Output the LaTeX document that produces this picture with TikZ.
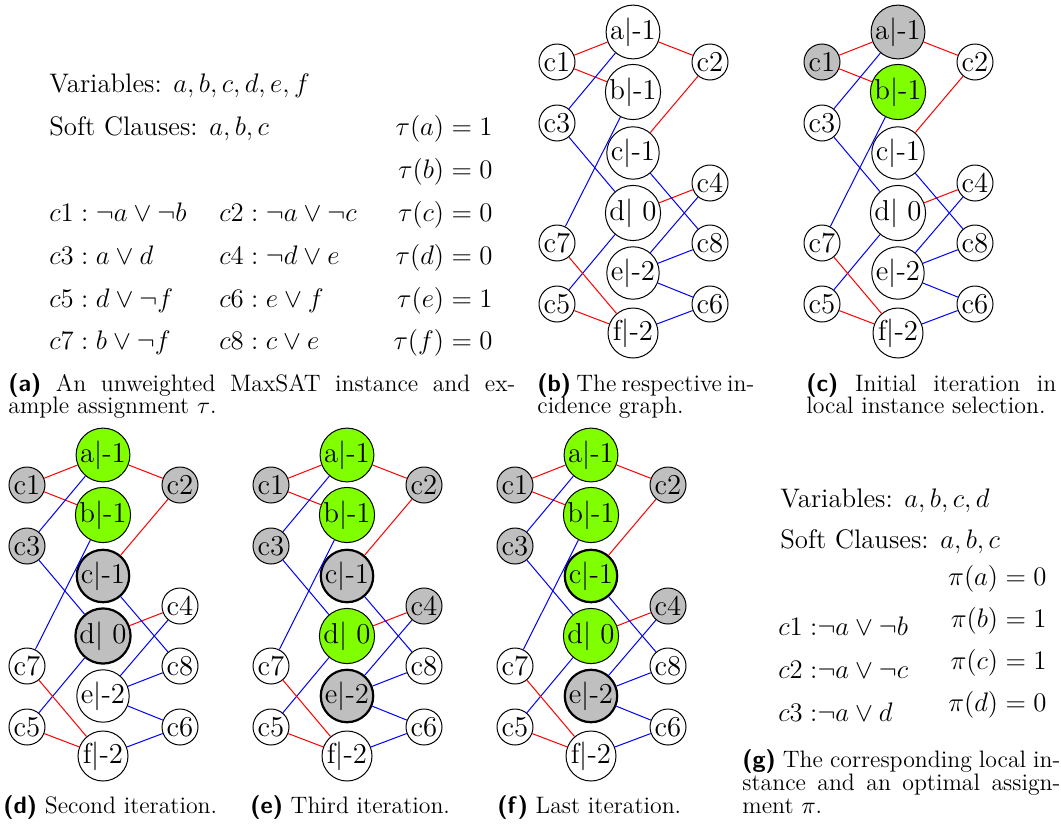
\documentclass[tikz,border=0pt]{standalone}
\usepackage{fix-cm}
\definecolor{lgreen}{RGB}{128,255,0}
\newcommand\lab[1]{{\sffamily\bfseries(#1)}}
\tikzset{
  varn/.style={circle, draw, line width=0.5pt, minimum size=25pt, inner sep=0pt, font=\fontsize{14.4}{17}\selectfont},
  clsn/.style={circle, draw, line width=0.5pt, minimum size=18pt, inner sep=0pt, font=\fontsize{14.4}{17}\selectfont},
  gr/.style={fill=lightgray},
  gn/.style={fill=lgreen},
  hl/.style={line width=1.1pt},
  negedge/.style={red, line width=0.5pt},
  posedge/.style={blue, line width=0.5pt},
  txt/.style={anchor=base west, inner sep=0pt, font=\fontsize{13.4}{16}\selectfont},
  txtr/.style={anchor=base east, inner sep=0pt, font=\fontsize{13.4}{16}\selectfont},
  capt/.style={anchor=base west, inner sep=0pt, font=\fontsize{11.9}{14}\selectfont},
  s-a/.style={}, s-b/.style={}, s-c/.style={}, s-d/.style={}, s-e/.style={}, s-f/.style={},
  s-c1/.style={}, s-c2/.style={}, s-c3/.style={}, s-c4/.style={},
  s-c5/.style={}, s-c6/.style={}, s-c7/.style={}, s-c8/.style={}
}
\newcommand\incgraph[1]{%
  \node[varn,s-a] (#1a) at (633,32) {a$|$-1};
  \node[varn,s-b] (#1b) at (633,92) {b$|$-1};
  \node[varn,s-c] (#1c) at (633,153) {c$|$-1};
  \node[varn,s-d] (#1d) at (633,213) {d$|$ 0};
  \node[varn,s-e] (#1e) at (633,273) {e$|$-2};
  \node[varn,s-f] (#1f) at (633,333) {f$|$-2};
  \node[clsn,s-c1] (#1c1) at (557,62) {c1};
  \node[clsn,s-c3] (#1c3) at (557,123) {c3};
  \node[clsn,s-c7] (#1c7) at (557,243) {c7};
  \node[clsn,s-c5] (#1c5) at (557,304) {c5};
  \node[clsn,s-c2] (#1c2) at (710,62) {c2};
  \node[clsn,s-c4] (#1c4) at (710,183) {c4};
  \node[clsn,s-c8] (#1c8) at (710,243) {c8};
  \node[clsn,s-c6] (#1c6) at (710,304) {c6};
  \draw[negedge] (#1c1) -- (#1a);
  \draw[negedge] (#1c1) -- (#1b);
  \draw[negedge] (#1c2) -- (#1a);
  \draw[negedge] (#1c2) -- (#1c);
  \draw[posedge] (#1c3) -- (#1a);
  \draw[posedge] (#1c3) -- (#1d);
  \draw[negedge] (#1c4) -- (#1d);
  \draw[posedge] (#1c4) -- (#1e);
  \draw[posedge] (#1c5) -- (#1d);
  \draw[negedge] (#1c5) -- (#1f);
  \draw[posedge] (#1c6) -- (#1e);
  \draw[posedge] (#1c6) -- (#1f);
  \draw[posedge] (#1c7) -- (#1b);
  \draw[negedge] (#1c7) -- (#1f);
  \draw[posedge] (#1c8) -- (#1c);
  \draw[posedge] (#1c8) -- (#1e);
}
\begin{document}
\begin{tikzpicture}[x=0.5pt, y=-0.5pt]
\useasboundingbox[fill=white] (0,0) rectangle (1061,825);

% (a) instance
\node[txt] (va) at (49,92) {Variables: $a,b,c,d,e,f$};
\node[txt] (sa) at (49,135) {Soft Clauses: $a,b,c$};
\node[txtr] (ta) at (493,135) {$\tau(a)=1$};
\node[txtr] (tb) at (493,178) {$\tau(b)=0$};
\node[txtr] (tc) at (493,221.5) {$\tau(c)=0$};
\node[txtr] (td) at (493,264) {$\tau(d)=0$};
\node[txtr] (te) at (493,307) {$\tau(e)=1$};
\node[txtr] (tf) at (493,349.5) {$\tau(f)=0$};
\node[txt] (k1) at (49,221.5) {$c1 : \neg a \vee \neg b$};
\node[txt] (k2) at (219,221.5) {$c2 : \neg a \vee \neg c$};
\node[txt] (k3) at (49,264) {$c3 : a \vee d$};
\node[txt] (k4) at (219,264) {$c4 : \neg d \vee e$};
\node[txt] (k5) at (49,307) {$c5 : d \vee \neg f$};
\node[txt] (k6) at (219,307) {$c6 : e \vee f$};
\node[txt] (k7) at (49,349.5) {$c7 : b \vee \neg f$};
\node[txt] (k8) at (219,349.5) {$c8 : c \vee e$};

% graphs
\begin{scope}
  \incgraph{b}
\end{scope}
\begin{scope}[shift={(265,0)}, s-a/.style=gr, s-c1/.style=gr, s-b/.style=gn]
  \incgraph{c}
\end{scope}
\begin{scope}[shift={(-530,423)}, s-a/.style=gn, s-b/.style=gn,
  s-c1/.style=gr, s-c2/.style=gr, s-c3/.style=gr,
  s-c/.style={gr,hl}, s-d/.style={gr,hl}]
  \incgraph{d}
\end{scope}
\begin{scope}[shift={(-286,423)}, s-a/.style=gn, s-b/.style=gn, s-d/.style=gn,
  s-c1/.style=gr, s-c2/.style=gr, s-c3/.style=gr, s-c4/.style=gr,
  s-c/.style={gr,hl}, s-e/.style={gr,hl}]
  \incgraph{e}
\end{scope}
\begin{scope}[shift={(-42,423)}, s-a/.style=gn, s-b/.style=gn, s-d/.style=gn,
  s-c/.style={gn,hl},
  s-c1/.style=gr, s-c2/.style=gr, s-c3/.style=gr, s-c4/.style=gr,
  s-e/.style={gr,hl}]
  \incgraph{f}
\end{scope}

% (g) local instance
\node[txt] (vg) at (780,507) {Variables: $a,b,c,d$};
\node[txt] (sg) at (780,548) {Soft Clauses: $a,b,c$};
\node[txtr] (pa) at (1047,585) {$\pi(a)=0$};
\node[txtr] (pb) at (1047,627) {$\pi(b)=1$};
\node[txtr] (pc) at (1047,669) {$\pi(c)=1$};
\node[txtr] (pd) at (1047,711) {$\pi(d)=0$};
\node[txt] (g1) at (778,635) {$c1\;{:}\neg a \vee \neg b$};
\node[txt] (g2) at (778,678) {$c2\;{:}\neg a \vee \neg c$};
\node[txt] (g3) at (778,721) {$c3\;{:}\neg a \vee d$};

% captions
\node[capt] (ca1) at (8,391) {\makebox[253.5pt][s]{\lab{a} An unweighted MaxSAT instance and ex-}};
\node[capt] (ca2) at (8,413) {ample assignment $\tau$.};
\node[capt] (cb1) at (537,391) {\makebox[105pt][s]{\lab{b} The respective in-}};
\node[capt] (cb2) at (537,413) {cidence graph.};
\node[capt] (cc1) at (806,391) {\makebox[125pt][s]{\lab{c} Initial iteration in}};
\node[capt] (cc2) at (806,413) {local instance selection.};
\node[capt] (cd) at (3,813) {\lab{d} Second iteration.};
\node[capt] (ce) at (250,813) {\lab{e} Third iteration.};
\node[capt] (cf) at (497,813) {\lab{f} Last iteration.};
\node[capt] (cg1) at (742,767) {\makebox[159pt][s]{\lab{g} The corresponding local in-}};
\node[capt] (cg2) at (742,790) {\makebox[159pt][s]{stance and an optimal assign-}};
\node[capt] (cg3) at (742,813) {ment $\pi$.};
\end{tikzpicture}
\end{document}
